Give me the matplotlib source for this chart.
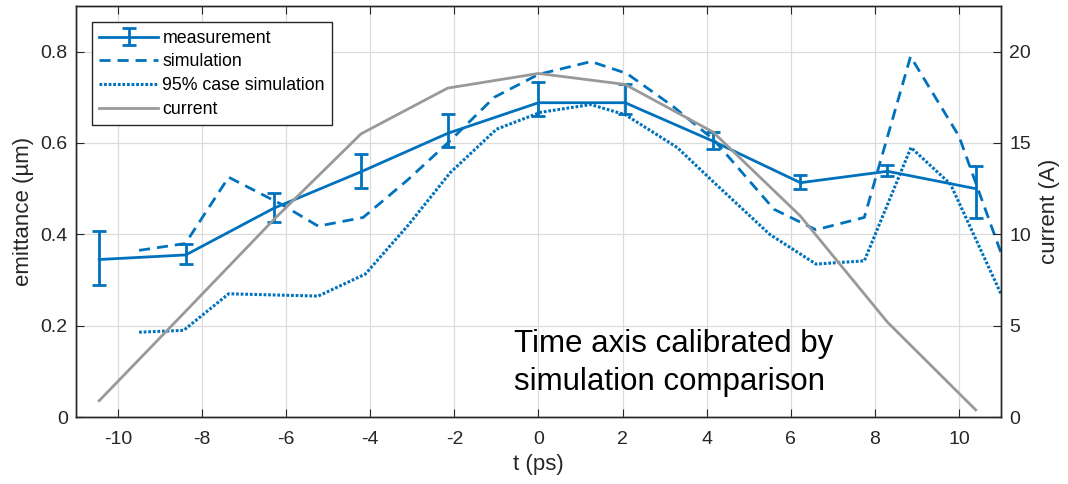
import matplotlib
matplotlib.use("Agg")
import matplotlib.pyplot as plt

plt.rcParams['font.family'] = ['Liberation Sans', 'DejaVu Sans']
plt.rcParams['axes.unicode_minus'] = False

# 测量数据 (emittance, µm)
t_meas = [-10.45, -8.39, -6.3, -4.22, -2.16, 0.0, 2.06, 4.15, 6.23, 8.3, 10.4]
emit_meas = [0.345, 0.355, 0.457, 0.537, 0.621, 0.688, 0.688, 0.604, 0.513, 0.538, 0.500]
err_lo = [0.055, 0.020, 0.031, 0.035, 0.030, 0.030, 0.024, 0.018, 0.013, 0.011, 0.065]
err_hi = [0.062, 0.025, 0.033, 0.038, 0.043, 0.046, 0.040, 0.021, 0.016, 0.013, 0.050]

# 模拟
t_sim = [-9.5, -8.4, -7.37, -6.1, -5.24, -4.17, -3.1, -2.1, -1.05, 0.0, 1.25,
         2.1, 3.2, 4.17, 5.6, 6.6, 7.75, 8.85, 10.0, 11.0]
emit_sim = [0.365, 0.38, 0.525, 0.465, 0.418, 0.437, 0.52, 0.605, 0.70, 0.75, 0.778,
            0.752, 0.68, 0.607, 0.455, 0.41, 0.437, 0.789, 0.615, 0.36]

# 95% 模拟
t_sim95 = [-9.5, -8.44, -7.37, -5.24, -4.12, -3.1, -2.1, -1.0, 0.05, 1.24,
           2.06, 3.3, 4.17, 5.5, 6.6, 7.75, 8.86, 9.8, 11.0]
emit_sim95 = [0.186, 0.19, 0.27, 0.265, 0.313, 0.42, 0.535, 0.63, 0.667, 0.684,
              0.662, 0.59, 0.514, 0.40, 0.335, 0.342, 0.59, 0.51, 0.27]

# 电流 (A)
t_cur = [-10.45, -8.39, -6.3, -4.22, -2.16, 0.0, 2.06, 4.15, 6.23, 8.3, 10.4]
current = [0.9, 5.8, 10.8, 15.5, 18.0, 18.8, 18.2, 15.6, 11.0, 5.2, 0.4]

blue = '#0072BD'
gray = '#999999'
dark = '#262626'

fig = plt.figure(figsize=(10.68, 4.84), dpi=100)
ax = fig.add_axes([0.0712, 0.138, 0.866, 0.850])
ax2 = ax.twinx()

h1 = ax.errorbar(t_meas, emit_meas, yerr=[err_lo, err_hi], color=blue, lw=2,
                 capsize=5, capthick=2, elinewidth=2, label='measurement')
h2, = ax.plot(t_sim, emit_sim, '--', color=blue, lw=2, label='simulation',
              dashes=(4, 2.5))
h3, = ax.plot(t_sim95, emit_sim95, ':', color=blue, lw=2.2,
              label='95% case simulation', dashes=(0.9, 0.6))
h4, = ax2.plot(t_cur, current, '-', color=gray, lw=2, label='current')

ax.set_xlim(-11, 11)
ax.set_ylim(0, 0.9)
ax2.set_ylim(0, 22.5)
ax.set_xticks(range(-10, 11, 2))
ax.set_yticks([0, 0.2, 0.4, 0.6, 0.8])
ax.set_yticklabels(['0', '0.2', '0.4', '0.6', '0.8'])
ax2.set_yticks([0, 5, 10, 15, 20])

ax.grid(True, color='#dcdcdc', lw=0.9)
ax.set_axisbelow(True)

ax.tick_params(axis='x', direction='in', top=True, length=6, labelsize=14,
               colors=dark, pad=10)
ax.tick_params(axis='y', direction='in', length=6, labelsize=14, colors=dark, pad=6)
ax2.tick_params(axis='y', direction='in', length=6, labelsize=14, colors=dark, pad=6)
for a in (ax, ax2):
    for sp in a.spines.values():
        sp.set_color(dark)
        sp.set_linewidth(1.0)

ax.set_xlabel('t (ps)', fontsize=16, color=dark, labelpad=4)
ax.set_ylabel('emittance (µm)', fontsize=16, color=dark, labelpad=5)
ax2.set_ylabel('current (A)', fontsize=16, color=dark, labelpad=6)

leg = ax2.legend([h1, h2, h3, h4],
                 ['measurement', 'simulation', '95% case simulation', 'current'],
                 loc='upper left', bbox_to_anchor=(0.017, 0.96), borderaxespad=0,
                 fontsize=12.8, fancybox=False, framealpha=1, edgecolor=dark,
                 handlelength=3.3, handletextpad=0.25, labelspacing=0.38,
                 borderpad=0.42)
leg.get_frame().set_linewidth(1.0)

ax.text(0.474, 0.215, 'Time axis calibrated by\nsimulation comparison',
        transform=ax.transAxes, fontsize=22.5, va='top', ha='left',
        color='black', linespacing=1.38)

fig.savefig('out.png', dpi=100)
